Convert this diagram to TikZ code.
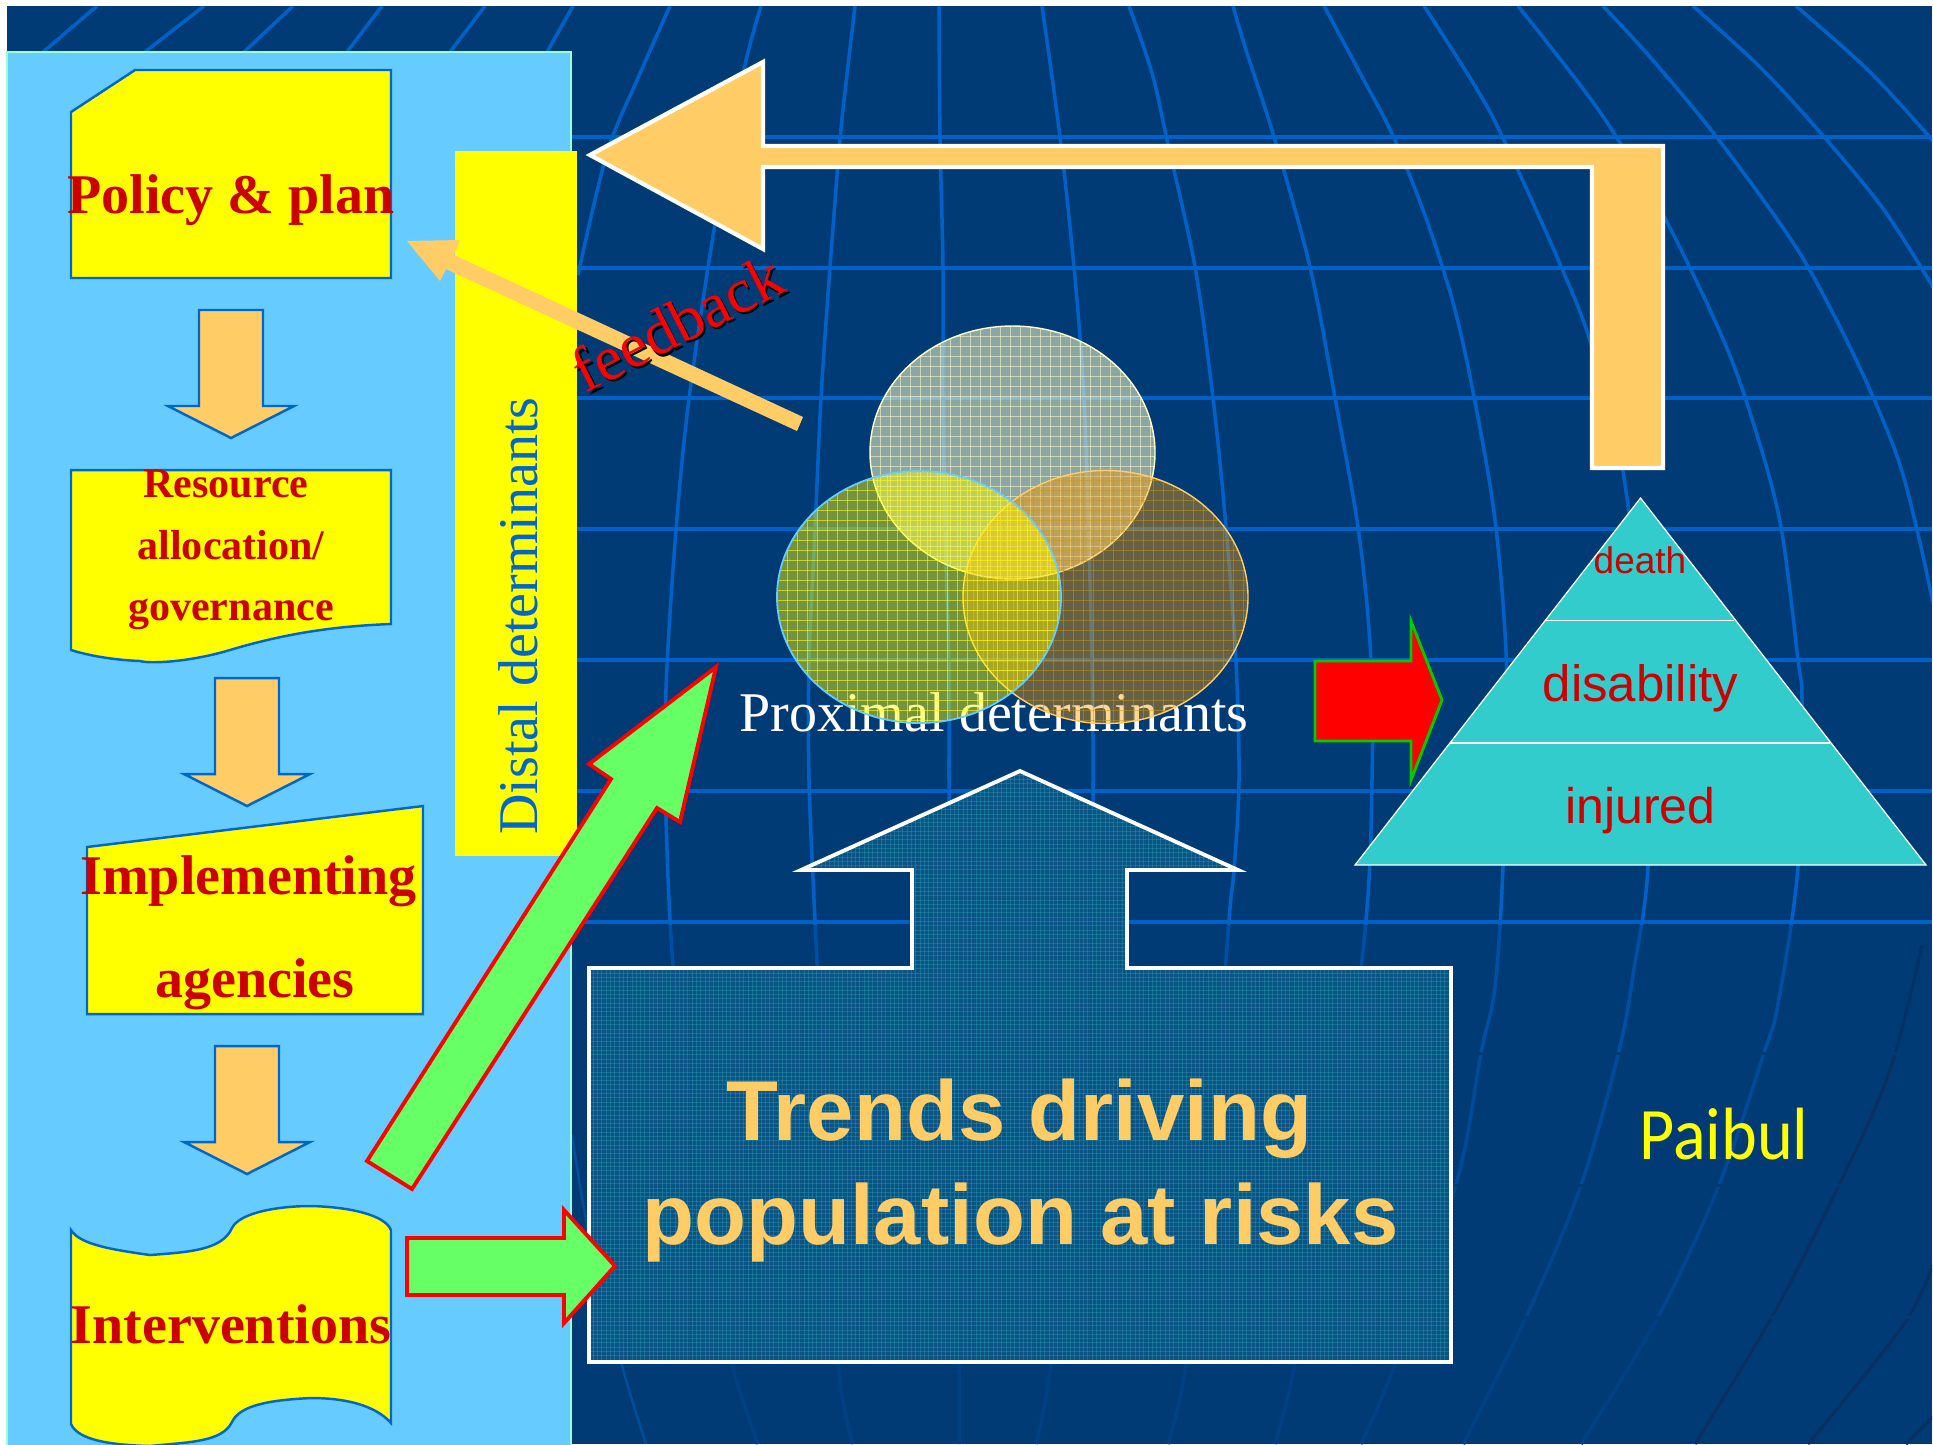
\documentclass[tikz,border=0pt]{standalone}
\usepackage{fontspec}
\usepackage{graphicx}
\setmainfont{Liberation Serif}
\newfontfamily\arialf{Liberation Sans}
\newfontfamily\comicf{Carlito}
\definecolor{navy}{HTML}{003B75}
\definecolor{gridA}{HTML}{0062C8}
\definecolor{gridB}{HTML}{004FA4}
\definecolor{gridC}{HTML}{004A9A}
\definecolor{gridD}{HTML}{00458E}
\definecolor{gridE}{HTML}{004186}
\definecolor{darkline}{HTML}{0A3062}
\definecolor{panel}{HTML}{66CCFF}
\definecolor{panelline}{HTML}{99FFCC}
\definecolor{peach}{HTML}{FFCC66}
\definecolor{blueline}{HTML}{0066CC}
\definecolor{darkred}{HTML}{CC0000}
\definecolor{lime}{HTML}{66FF66}
\definecolor{teal}{HTML}{33CCCC}
\definecolor{boxfill}{HTML}{0A5587}
\definecolor{boxgrid}{HTML}{2C9AAE}
\definecolor{pale}{HTML}{FFFFCC}
\definecolor{pureyellow}{HTML}{FFFF00}
\definecolor{brownfill}{HTML}{FF9900}
\definecolor{browngrid}{HTML}{CC9900}
\definecolor{puregreen}{HTML}{00CC00}
\definecolor{purered}{HTML}{FF0000}
\newcommand{\pxf}[1]{\fontsize{\the\dimexpr 0.28453pt*#1\relax}{\the\dimexpr 0.3pt*#1\relax}\selectfont}
\newcommand{\mline}[2]{\draw[#1,line width=1pt] plot[smooth,tension=.55] coordinates {#2};}
\newcommand{\meridians}[1]{%
\mline{#1}{(97,6)(43,52)}
\mline{#1}{(204,6)(145,52)}
\mline{#1}{(293,6)(244,52)}
\mline{#1}{(382,6)(347,52)}
\mline{#1}{(485,6)(450,52)}
\mline{#1}{(573,6)(547,52)}
\mline{#1}{(670,6)(638,78)(607,153)(578,275)}
\mline{#1}{(761,6)(742,78)(714,230)(689,399)(676,530)(666,689)(666,817)(673,965)(689,1089)(708,1240)(732,1364)(758,1444)}
\mline{#1}{(855,6)(846,83)(840,140)(830,267)(821,398)(815,530)(809,663)(809,780)(815,920)(826,1140)(838,1364)(853,1444)}
\mline{#1}{(939,6)(940,137)(943,267)(943,400)(945,530)(949,663)(949,780)(950,920)(956,1140)(959,1364)(959,1444)}
\mline{#1}{(1042,6)(1060,137)(1074,267)(1083,380)(1087,480)(1092,663)(1093,780)(1091,920)(1073,1140)(1051,1364)(1036,1444)}
\mline{#1}{(1129,6)(1152,73)(1167,140)(1195,267)(1213,398)(1226,527)(1236,663)(1239,780)(1234,870)(1229,920)(1212,1140)(1186,1364)(1168,1444)}
\mline{#1}{(1233,6)(1246,50)(1274,137)(1310,267)(1335,398)(1359,534)(1371,660)(1372,780)(1366,920)(1340,1130)(1295,1364)(1275,1444)}
\mline{#1}{(1324,6)(1360,73)(1394,138)(1428,224)(1455,310)(1475,402)(1493,505)(1503,603)(1507,700)(1503,867)(1495,987)(1481,1053)(1457,1181)(1395,1364)(1361,1444)}
\mline{#1}{(1424,6)(1475,86)(1503,138)(1560,264)(1591,344)(1623,471)(1648,700)(1648,867)(1634,969)(1619,1051)(1581,1185)(1528,1313)(1463,1444)}
\mline{#1}{(1518,6)(1581,86)(1617,138)(1668,224)(1723,339)(1752,419)(1780,522)(1798,660)(1802,706)(1798,867)(1778,1004)(1764,1053)(1719,1185)(1658,1317)(1581,1444)}
\mline{#1}{(1603,6)(1650,57)(1715,135)(1788,235)(1825,298)(1865,379)(1898,459)(1918,534)(1933,603)}
\mline{#1}{(1693,6)(1762,69)(1825,138)(1884,210)(1933,287)}
\mline{#1}{(1796,6)(1870,72)(1933,141)}
}
\tikzset{
 x=0.01cm,y=-0.01cm,
 flowbox/.style={draw=blueline,fill=pureyellow,line width=0.7pt},
 downarrow/.style={draw=blueline,fill=peach,line width=0.7pt},
 bigarrow/.style={draw=white,fill=peach,line width=1.2pt,miter limit=20},
 greenarrow/.style={draw=purered,fill=lime,line width=1.1pt,miter limit=20},
 redarrow/.style={draw=puregreen,fill=purered,line width=0.8pt,miter limit=20},
 pyr/.style={draw=white,fill=teal,line width=0.35pt},
 flowtext/.style={anchor=base,inner sep=0pt,text=darkred,font=\bfseries},
 pyrtext/.style={anchor=base,inner sep=0pt,text=darkred,font=\arialf},
 trendtext/.style={anchor=base,inner sep=0pt,text=peach,font=\arialf\bfseries},
}
\begin{document}
\begin{tikzpicture}
\useasboundingbox (0,0) rectangle (1933,1444);
\fill[white] (0,0) rectangle (1933,1444);
\fill[navy] (7,6) rectangle (1932,1444);
% background globe grid
\begin{scope}
\clip (7,6) rectangle (1932,1444);
\foreach \h in {137,268,398,529,660,791,922}{\draw[gridA,line width=1.1pt] (572,\h) -- (1932,\h);}
\begin{scope}\clip (0,6) rectangle (1933,925); \meridians{gridA}\end{scope}
\begin{scope}\clip (0,925) rectangle (1933,1051); \meridians{gridB}\end{scope}
\begin{scope}\clip (0,1055) rectangle (1933,1183); \meridians{gridC}\end{scope}
\begin{scope}\clip (0,1187) rectangle (1933,1315); \meridians{gridD}\end{scope}
\begin{scope}\clip (0,1319) rectangle (1933,1444); \meridians{gridE}\end{scope}
\draw[gridA,line width=0.7pt,opacity=.5] plot[smooth,tension=.55] coordinates {(572,1135)(590,1240)(623,1369)(646,1444)};
\foreach \a/\b/\c in {945/1051/navy!85!black,1055/1183/darkline,1187/1315/darkline,1319/1444/darkline}{
  \begin{scope}\clip (0,\a) rectangle (1933,\b);
  \draw[\c,line width=.9pt] plot[smooth,tension=.55] coordinates {(1922,945)(1890,1070)(1841,1181)(1774,1313)(1695,1444)};
  \draw[\c,line width=.9pt] plot[smooth,tension=.55] coordinates {(1933,1265)(1902,1327)(1808,1444)};
  \draw[\c,line width=.9pt] plot[smooth,tension=.55] coordinates {(1933,1417)(1906,1444)};
  \end{scope}}
\end{scope}
% left panel
\draw[fill=panel,draw=panelline,line width=.5pt] (7,52) rectangle (571,1450);
% distal bar
\fill[pureyellow] (455,151) rectangle (577,856);
\node[anchor=base,rotate=90,inner sep=0pt,text=blueline] (distal) at (537,616) {\pxf{56.5}Distal determinants};
% flow shapes
\draw[flowbox] (135,70) -- (391,70) -- (391,278) -- (71,278) -- (71,112) -- cycle;
\node[flowtext] (policy) at (231,213) {\pxf{56}Policy \& plan};
\draw[downarrow] (199,310) -- (263,310) -- (263,406) -- (294,406) -- (231,438) -- (168,406) -- (199,406) -- cycle;
\draw[flowbox] (71,470) -- (391,470) -- (391,624) .. controls (340,626) and (290,632) .. (230,650) .. controls (190,662) and (150,664) .. (140,661) .. controls (115,660) and (90,656) .. (71,650) -- cycle;
\node[flowtext] (res1) at (226,497) {\pxf{42}Resource};
\node[flowtext] (res2) at (231,559) {\pxf{42}allocation/};
\node[flowtext] (res3) at (231,620) {\pxf{42}governance};
\draw[downarrow] (215,678) -- (279,678) -- (279,774) -- (310,774) -- (247,806) -- (184,774) -- (215,774) -- cycle;
\draw[flowbox] (87,847) -- (423,806) -- (423,1014) -- (87,1014) -- cycle;
\node[flowtext] (impl1) at (248.5,894) {\pxf{56}Implementing};
\node[flowtext] (impl2) at (255,997) {\pxf{56}agencies};
\draw[downarrow] (215,1046) -- (279,1046) -- (279,1142) -- (310,1142) -- (247,1174) -- (184,1142) -- (215,1142) -- cycle;
\draw[flowbox] (71,1230) .. controls (80,1245) and (115,1250) .. (150,1255) .. controls (190,1252) and (222,1250) .. (232,1228) .. controls (240,1212) and (280,1206) .. (311,1206) .. controls (350,1207) and (385,1215) .. (391,1230) -- (391,1423) .. controls (375,1405) and (345,1398) .. (311,1398) .. controls (270,1400) and (240,1405) .. (232,1422) .. controls (222,1442) and (190,1442) .. (150,1446) .. controls (110,1445) and (78,1440) .. (71,1424) -- cycle;
\node[flowtext] (interv) at (231,1343) {\pxf{56}Interventions};
% large return arrow
\draw[bigarrow] (590,155) -- (763,62) -- (763,146) -- (1663,146) -- (1663,468) -- (1592,468) -- (1592,167) -- (763,167) -- (763,249) -- cycle;
% feedback arrow
\fill[peach] (803,417) -- (454,255) -- (460,240) -- (407,241) -- (440,281) -- (446,269) -- (797,431) -- cycle;
\node[anchor=base,inner sep=0pt,rotate=27,text=black] (fbshadow) at (689.5,344.5) {\pxf{63}feedback};
\node[anchor=base,inner sep=0pt,rotate=27,text=purered] (fb) at (687,342) {\pxf{63}feedback};
% proximal text, under the ellipses
\node[anchor=base,inner sep=0pt,text=white] (prox) at (994,731) {\pxf{56.5}Proximal determinants};
% Venn
\fill[pale,fill opacity=.55] (1012.5,452.5) ellipse [x radius=142.5,y radius=126.5];
\begin{scope}
\clip (1012.5,452.5) ellipse [x radius=142.5,y radius=126.5];
\foreach \k in {0,...,29}{\draw[pale,line width=.25pt,opacity=.55] ({870+10*\k},326) -- ({870+10*\k},580);}
\foreach \k in {0,...,26}{\draw[pale,line width=.25pt,opacity=.55] (870,{326+10*\k}) -- (1156,{326+10*\k});}
\end{scope}
\draw[pale,line width=.4pt] (1012.5,452.5) ellipse [x radius=142.5,y radius=126.5];
\fill[brownfill,fill opacity=.4] (1105.5,597) ellipse [x radius=142.5,y radius=126.5];
\begin{scope}
\clip (1105.5,597) ellipse [x radius=142.5,y radius=126.5];
\foreach \k in {0,...,29}{\draw[browngrid,line width=.25pt,opacity=.5] ({963+10*\k},470) -- ({963+10*\k},724);}
\foreach \k in {0,...,26}{\draw[browngrid,line width=.25pt,opacity=.5] (963,{470+10*\k}) -- (1249,{470+10*\k});}
\end{scope}
\draw[peach,line width=.4pt] (1105.5,597) ellipse [x radius=142.5,y radius=126.5];
\fill[pureyellow,fill opacity=.45] (919,597) ellipse [x radius=142,y radius=126];
\begin{scope}
\clip (919,597) ellipse [x radius=142,y radius=126];
\foreach \k in {0,...,29}{\draw[pureyellow,line width=.25pt,opacity=.6] ({777+10*\k},470) -- ({777+10*\k},724);}
\foreach \k in {0,...,26}{\draw[pureyellow,line width=.25pt,opacity=.6] (777,{470+10*\k}) -- (1062,{470+10*\k});}
\end{scope}
\draw[panel,line width=.5pt] (919,597) ellipse [x radius=142,y radius=126];
% trends shape
\fill[boxfill,fill opacity=.93] (1020,771) -- (1238,870) -- (1127,870) -- (1127,968) -- (1451,968) -- (1451,1362) -- (589,1362) -- (589,968) -- (912,968) -- (912,870) -- (801,870) -- cycle;
\begin{scope}
\clip (1020,771) -- (1238,870) -- (1127,870) -- (1127,968) -- (1451,968) -- (1451,1362) -- (589,1362) -- (589,968) -- (912,968) -- (912,870) -- (801,870) -- cycle;
\foreach \k in {0,...,200}{\draw[boxgrid,line width=.25pt,opacity=.4] ({589+4.3*\k},771) -- ({589+4.3*\k},1362);}
\foreach \k in {0,...,137}{\draw[boxgrid,line width=.25pt,opacity=.4] (589,{771+4.3*\k}) -- (1451,{771+4.3*\k});}
\end{scope}
\draw[white,line width=1.1pt,miter limit=20] (1020,771) -- (1238,870) -- (1127,870) -- (1127,968) -- (1451,968) -- (1451,1362) -- (589,1362) -- (589,968) -- (912,968) -- (912,870) -- (801,870) -- cycle;
\node[trendtext] (tr1) at (1019.5,1140.5) {\pxf{85.5}Trends driving};
\node[trendtext] (tr2) at (1020.5,1244) {\pxf{85}population at risks};
% green arrows
\draw[greenarrow] (367,1161) -- (611,779) -- (589,764) -- (716,667) -- (680,822) -- (657,808) -- (412,1189) -- cycle;
\draw[greenarrow] (407,1238) -- (564,1238) -- (564,1210) -- (615,1266) -- (564,1323) -- (564,1295) -- (407,1295) -- cycle;
% red arrow
\draw[redarrow] (1315,661) -- (1411,661) -- (1411,621) -- (1442,700) -- (1411,780) -- (1411,741) -- (1315,741) -- cycle;
% pyramid
\draw[pyr] (1640.5,498) -- (1926,865) -- (1355,865) -- cycle;
\draw[white,line width=.5pt] (1546,620.5) -- (1734,620.5);
\draw[white,line width=.35pt] (1450,743) -- (1830,743);
\node[pyrtext] (death) at (1640,573) {\pxf{37}death};
\node[pyrtext] (disab) at (1640.5,701) {\pxf{51}disability};
\node[pyrtext] (injur) at (1640.5,823.5) {\pxf{50}injured};
% signature
\node[anchor=base,inner sep=0pt,text=pureyellow,font=\comicf] (paibul) at (1724,1159) {\pxf{74}\scalebox{.92}[1]{Paibul}};
\end{tikzpicture}
\end{document}
